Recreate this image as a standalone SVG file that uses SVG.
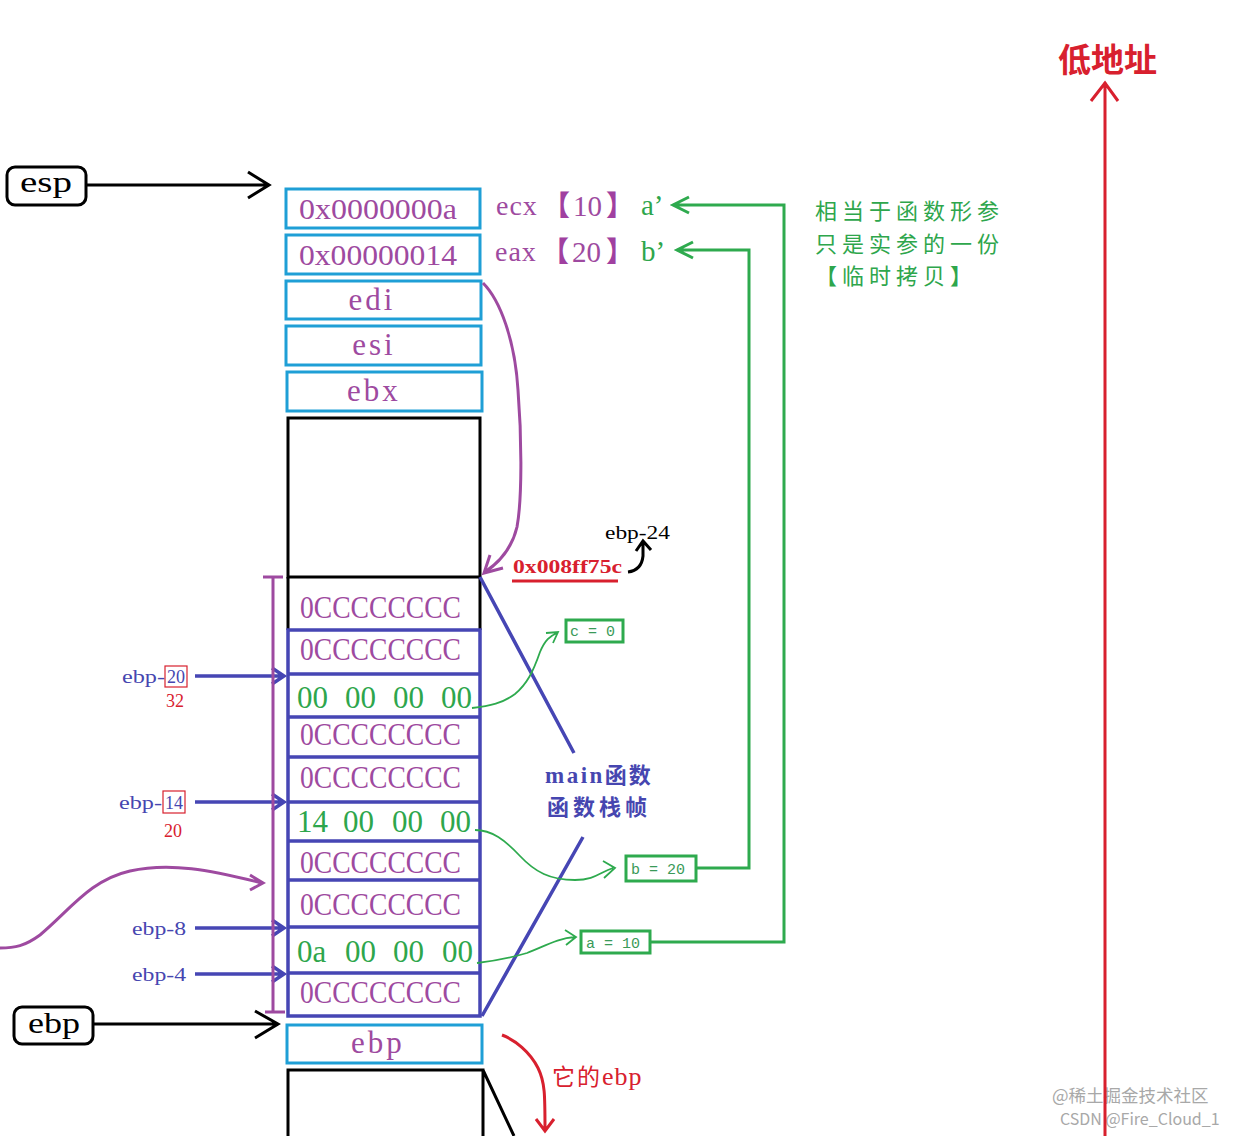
<svg xmlns="http://www.w3.org/2000/svg" width="1241" height="1136" viewBox="0 0 1241 1136">
<style>
.ser{font-family:"Liberation Serif","Noto Sans CJK SC",serif}
.cjk{font-family:"Noto Sans CJK SC",sans-serif}
.pur{fill:#9e4aa0}
.grn{fill:#2ea64c}
.blu{fill:#4646b0}
.red{fill:#d8202e}
.cy{fill:#fff;stroke:#1f9fd6;stroke-width:3}
.bk{fill:none;stroke:#000;stroke-width:3}
.bl{fill:none;stroke:#4646b4;stroke-width:3.5}
.gl{fill:none;stroke:#2eaa4e;stroke-width:3}
.gt{fill:none;stroke:#2eaa4e;stroke-width:1.8}
.pl{fill:none;stroke:#9e4aa0;stroke-width:3}
.rl{fill:none;stroke:#d8202e;stroke-width:3}
.hex{font-size:31px}
.small{font-size:18px}
.gbox{fill:#fff;stroke:#2eaa4e;stroke-width:3}
.mono{font-family:"Liberation Mono",monospace;font-size:15px;fill:#3a9a58}
.brk{font-family:"Noto Sans CJK SC",sans-serif;fill:#a040a0;font-weight:bold}
</style>
<rect width="1241" height="1136" fill="#fff"/>

<g id="esp">
<rect x="7" y="167" width="79" height="38" rx="8" fill="#fff" stroke="#000" stroke-width="3"/>
<text class="ser" x="20" y="192" font-size="29" textLength="52" lengthAdjust="spacingAndGlyphs">esp</text>
</g>
<g id="ebp-label">
<rect x="14" y="1007" width="79" height="37" rx="8" fill="#fff" stroke="#000" stroke-width="3"/>
<text class="ser" x="28" y="1033" font-size="29" textLength="52" lengthAdjust="spacingAndGlyphs">ebp</text>
</g>

<g id="top-cells">
<rect class="cy" x="286" y="189" width="194" height="39"/>
<rect class="cy" x="286" y="235" width="194" height="39"/>
<rect class="cy" x="286" y="281" width="195" height="38"/>
<rect class="cy" x="286" y="326" width="195" height="39"/>
<rect class="cy" x="287" y="372" width="195" height="39"/>
<text class="ser pur" x="299" y="219" font-size="29" textLength="158" lengthAdjust="spacingAndGlyphs">0x0000000a</text>
<text class="ser pur" x="299" y="265" font-size="29" textLength="158" lengthAdjust="spacingAndGlyphs">0x00000014</text>
<text class="ser pur" x="372" y="310" font-size="31" text-anchor="middle" letter-spacing="3">edi</text>
<text class="ser pur" x="374" y="355" font-size="31" text-anchor="middle" letter-spacing="3">esi</text>
<text class="ser pur" x="374" y="401" font-size="31" text-anchor="middle" letter-spacing="3">ebx</text>
</g>

<g id="empty-frame">
<rect class="bk" x="288" y="418" width="192" height="159"/>
</g>

<g id="main-stack">
<path class="bk" d="M288,577 V630 M480,577 V630"/>
<rect class="bl" x="288" y="630" width="192" height="386"/>
<path class="bl" d="M288,674 H480 M288,717 H480 M288,757 H480 M288,802 H480 M288,841 H480 M288,880 H480 M288,927 H480 M288,973 H480"/>
<g class="ser pur hex">
<text x="300" y="618" textLength="161" lengthAdjust="spacingAndGlyphs">0CCCCCCCC</text>
<text x="300" y="660" textLength="161" lengthAdjust="spacingAndGlyphs">0CCCCCCCC</text>
<text x="300" y="745" textLength="161" lengthAdjust="spacingAndGlyphs">0CCCCCCCC</text>
<text x="300" y="788" textLength="161" lengthAdjust="spacingAndGlyphs">0CCCCCCCC</text>
<text x="300" y="873" textLength="161" lengthAdjust="spacingAndGlyphs">0CCCCCCCC</text>
<text x="300" y="915" textLength="161" lengthAdjust="spacingAndGlyphs">0CCCCCCCC</text>
<text x="300" y="1003" textLength="161" lengthAdjust="spacingAndGlyphs">0CCCCCCCC</text>
</g>
<g class="ser grn hex">
<text x="297" y="708">00</text><text x="345" y="708">00</text><text x="393" y="708">00</text><text x="441" y="708">00</text>
<text x="297" y="832">14</text><text x="343" y="832">00</text><text x="392" y="832">00</text><text x="440" y="832">00</text>
<text x="297" y="962">0a</text><text x="345" y="962">00</text><text x="393" y="962">00</text><text x="442" y="962">00</text>
</g>
</g>

<g id="ebp-cell">
<rect class="cy" x="287" y="1025" width="195" height="38"/>
<text class="ser pur" x="378" y="1053" font-size="31" text-anchor="middle" letter-spacing="3">ebp</text>
</g>
<g id="prev-frame">
<path class="bk" d="M288,1136 V1070 H483 V1136 M483,1070 L514,1136"/>
</g>

<g id="labels">
<text class="ser pur" x="496" y="215" font-size="28" letter-spacing="1">ecx</text>
<text class="brk" x="542" y="216" font-size="28">【</text>
<text class="ser pur" x="573" y="216" font-size="29">10</text>
<text class="brk" x="606" y="216" font-size="28">】</text>
<text class="ser grn" x="641" y="215" font-size="29">a’</text>
<text class="ser pur" x="495" y="261" font-size="28" letter-spacing="1">eax</text>
<text class="brk" x="541" y="262" font-size="28">【</text>
<text class="ser pur" x="572" y="262" font-size="29">20</text>
<text class="brk" x="606" y="262" font-size="28">】</text>
<text class="ser grn" x="641" y="261" font-size="29">b’</text>

<g class="cjk grn" font-size="22" letter-spacing="5">
<text x="815" y="219">相当于函数形参</text>
<text x="815" y="252">只是实参的一份</text>
<text x="815" y="284">【临时拷贝】</text>
</g>

<text class="cjk red" x="1058" y="72" font-size="33" font-weight="bold">低地址</text>

<text class="ser red" x="513" y="573" font-size="19" font-weight="bold" textLength="109" lengthAdjust="spacingAndGlyphs">0x008ff75c</text>
<text class="ser" x="605" y="539" font-size="19" textLength="65" lengthAdjust="spacingAndGlyphs">ebp-24</text>

<g class="ser blu small">
<text x="122" y="683" textLength="43" lengthAdjust="spacingAndGlyphs">ebp-</text>
<text x="167" y="683">20</text>
<text x="119" y="809" textLength="43" lengthAdjust="spacingAndGlyphs">ebp-</text>
<text x="165" y="809">14</text>
<text x="132" y="935" textLength="54" lengthAdjust="spacingAndGlyphs">ebp-8</text>
<text x="132" y="981" textLength="54" lengthAdjust="spacingAndGlyphs">ebp-4</text>
</g>
<rect x="165" y="666" width="22" height="21" fill="none" stroke="#d8202e" stroke-width="1.2"/>
<rect x="163" y="791" width="22" height="22" fill="none" stroke="#d8202e" stroke-width="1.2"/>
<text class="ser red small" x="166" y="707">32</text>
<text class="ser red small" x="164" y="837">20</text>

<g class="cjk blu" font-size="22" font-weight="bold">
<text x="545" y="783"><tspan class="ser" font-size="23" letter-spacing="2.5">main</tspan><tspan letter-spacing="2">函数</tspan></text>
<text x="547" y="815" letter-spacing="4">函数栈帧</text>
</g>

<text class="cjk red" x="552" y="1085" font-size="23"><tspan letter-spacing="2">它的</tspan><tspan class="ser" font-size="26" letter-spacing="1">ebp</tspan></text>

<g font-family="'Noto Sans CJK SC',sans-serif" fill="#a8a8a8">
<text x="1052" y="1102" font-size="17.5">@稀土掘金技术社区</text>
<text x="1060" y="1125" font-size="16">CSDN @Fire_Cloud_1</text>
</g>
</g>

<g id="green-vars">
<rect class="gbox" x="566" y="620" width="57" height="22"/>
<text class="mono" x="570" y="636">c = 0</text>
<rect class="gbox" x="626" y="856" width="70" height="25"/>
<text class="mono" x="631" y="874">b = 20</text>
<rect class="gbox" x="581" y="931" width="69" height="22"/>
<text class="mono" x="586" y="948">a = 10</text>
</g>

<g id="connectors">
<path class="bk" stroke-width="3.5" d="M86,185 H268 M248,172 L269,185 L248,198"/>
<path class="bk" stroke-width="3.5" d="M93,1024 H277 M255,1011 L278,1024 L255,1038"/>
<path class="bl" stroke-width="3" d="M195,676 H283 M272,668 L284,676 L272,684"/>
<path class="bl" stroke-width="3" d="M195,802 H283 M272,794 L284,802 L272,810"/>
<path class="bl" stroke-width="3" d="M195,928 H283 M272,920 L284,928 L272,936"/>
<path class="bl" stroke-width="3" d="M195,974 H283 M272,966 L284,974 L272,982"/>
<path class="pl" stroke-width="3.5" d="M273,577 V1012 M263,577 H283 M265,1012 H285"/>
<path class="pl" d="M0,948 C15,948 25,946 40,935 C70,910 90,880 130,871 C170,862 210,870 262,883 M250,875 L263,883 L250,890"/>
<path class="pl" d="M483,283 C500,300 515,340 518,390 C522,440 522,500 517,527 C512,548 500,562 485,572 M490,555 L484,573 L503,568"/>
<path class="bl" stroke-width="2.5" d="M480,577 L574,753 M583,837 L482,1016"/>
<path class="rl" d="M512,581 H618"/>
<path class="bk" stroke-width="2.5" d="M628,572 C636,571 642,566 643,556 L643,542 M636,551 L643,541 L651,550"/>
<path class="gt" d="M472,708 C490,706 503,703 515,694 C527,684 533,672 540,652 C545,640 550,636 557,633 M546,633 L558,632 L553,643"/>
<path class="gt" d="M475,830 C492,830 505,840 520,856 C535,872 550,880 575,880 C595,880 600,872 613,868 M603,861 L615,868 L604,878"/>
<path class="gt" d="M477,963 C495,961 510,958 527,953 C545,946 558,938 575,937 M565,930 L576,937 L566,945"/>
<path class="gl" d="M650,942 H784 V205 H673 M689,197 L673,205 L689,213"/>
<path class="gl" d="M696,868 H749 V250 H677 M693,242 L677,250 L693,258"/>
<path class="rl" stroke-width="3.5" d="M1105,82 V1136 M1091,101 L1105,83 L1118,101"/>
<path class="rl" d="M502,1035 C515,1040 530,1052 538,1068 C545,1082 545,1095 545,1130 M536,1119 L545,1131 L554,1119"/>
</g>
</svg>
